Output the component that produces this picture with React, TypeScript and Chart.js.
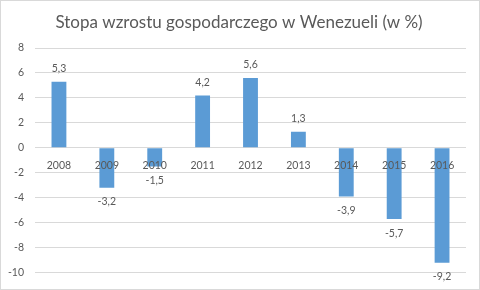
import React, { useEffect, useRef } from "react";
import { Chart, registerables } from "chart.js";

Chart.register(...registerables);

const titleText = "Stopa wzrostu gospodarczego w Wenezueli (w %)";
const categories = ["2008", "2009", "2010", "2011", "2012", "2013", "2014", "2015", "2016"];
const growth = [5.3, -3.2, -1.5, 4.2, 5.6, 1.3, -3.9, -5.7, -9.2];
const yMin = -10;
const yMax = 8;
const yStep = 2;

const FONT = "Lato, 'Open Sans', sans-serif";
const TEXT = "#595959";
const GRID = "#d9d9d9";
const BAR = "#5b9bd5";

const fmt = (v: number) => v.toString().replace(".", ",");

const decorPlugin = {
  id: "decor",
  afterDraw(chart: any) {
    const ctx = chart.ctx;
    ctx.save();
    ctx.strokeStyle = GRID;
    ctx.lineWidth = 1;
    ctx.strokeRect(0.5, 0.5, chart.width - 1, chart.height - 1);
    ctx.fillStyle = TEXT;
    ctx.font = `17px ${FONT}`;
    ctx.textAlign = "center";
    ctx.textBaseline = "middle";
    ctx.fillText(titleText, 239, 23);
    // data labels
    const meta = chart.getDatasetMeta(0);
    ctx.font = `10.5px ${FONT}`;
    meta.data.forEach((el: any, i: number) => {
      const v = growth[i];
      if (v >= 0) {
        ctx.textBaseline = "bottom";
        ctx.fillText(fmt(v), el.x, el.y - 8);
      } else {
        ctx.textBaseline = "top";
        ctx.fillText(fmt(v), el.x, el.y + 9);
      }
    });
    ctx.restore();
  },
};

export default function App() {
  const ref = useRef<HTMLCanvasElement>(null);
  useEffect(() => {
    document.body.style.margin = "0";
    const chart = new Chart(ref.current!, {
      type: "bar",
      data: {
        labels: categories,
        datasets: [
          {
            data: growth,
            backgroundColor: BAR,
            borderWidth: 0,
            barPercentage: 0.31,
            categoryPercentage: 1,
          },
        ],
      },
      options: {
        responsive: false,
        animation: false,
        devicePixelRatio: 1,
        layout: { padding: { top: 48, right: 14, bottom: 17, left: 0 } },
        plugins: {
          legend: { display: false },
          title: { display: false },
          tooltip: { enabled: false },
        },
        scales: {
          x: {
            position: { y: 0 } as any,
            grid: { display: false, drawTicks: false },
            border: { display: false },
            ticks: {
              z: 1,
              color: TEXT,
              font: { family: FONT, size: 10.5 },
              padding: 11,
              maxRotation: 0,
            } as any,
          },
          y: {
            min: yMin,
            max: yMax,
            grid: { color: GRID, drawTicks: false },
            border: { display: false },
            ticks: {
              stepSize: yStep,
              color: TEXT,
              font: { family: FONT, size: 10.5 },
              padding: 11,
            },
            afterFit(scale: any) {
              scale.width = 35;
            },
          },
        },
      },
      plugins: [decorPlugin],
    });
    return () => chart.destroy();
  }, []);
  return (
    <div style={{ position: "absolute", left: 0, top: 0, width: 480, height: 290 }}>
      <canvas ref={ref} width={480} height={290} />
    </div>
  );
}
